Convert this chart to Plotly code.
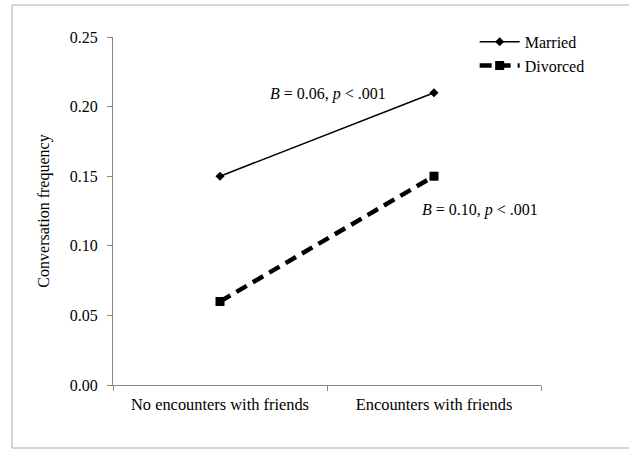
import plotly.graph_objects as go

categories = ["No encounters with friends", "Encounters with friends"]
married = [0.15, 0.21]
divorced = [0.06, 0.15]
y_ticks = [0.00, 0.05, 0.10, 0.15, 0.20, 0.25]
y_tick_labels = ["0.00", "0.05", "0.10", "0.15", "0.20", "0.25"]
annot_married = "<i>B</i> = 0.06, <i>p</i> < .001"
annot_divorced = "<i>B</i> = 0.10, <i>p</i> < .001"

FONT = "Liberation Serif"

fig = go.Figure()
fig.add_trace(go.Scatter(
    x=categories, y=married, name="Married", mode="lines+markers",
    line=dict(color="black", width=1.5),
    marker=dict(symbol="diamond", size=7, color="black"),
))
fig.add_trace(go.Scatter(
    x=categories, y=divorced, name="Divorced", mode="lines+markers",
    line=dict(color="black", width=4.5, dash="12px,7px"),
    marker=dict(symbol="square", size=9, color="black"),
))

fig.add_annotation(x=0.505, y=0.209, xref="x", yref="y", text=annot_married,
                   showarrow=False, font=dict(family=FONT, size=16, color="black"))
fig.add_annotation(x=1.215, y=0.1257, xref="x", yref="y", text=annot_divorced,
                   showarrow=False, font=dict(family=FONT, size=16, color="black"))

# outer chart frame (top, left, bottom edges)
fx0, fx1 = -101/428, (629-113)/428
fy0, fy1 = -(448-385)/348, (385-5)/348
for (a, b, c, d) in [(fx0, fy1, fx1, fy1), (fx0, fy0, fx0, fy1), (fx0, fy0, fx1, fy0)]:
    fig.add_shape(type="line", xref="paper", yref="paper", x0=a, y0=b, x1=c, y1=d,
                  line=dict(color="#c8c8c8", width=1.5))

fig.update_layout(
    width=629, height=450,
    margin=dict(l=113, r=88, t=37, b=65, autoexpand=False),
    paper_bgcolor="white", plot_bgcolor="white",
    font=dict(family=FONT, size=16, color="black"),
    showlegend=True,
    legend=dict(x=0.845, y=1.035, xanchor="left", yanchor="top",
                bgcolor="rgba(0,0,0,0)", font=dict(family=FONT, size=16),
                itemwidth=40, tracegroupgap=2),
    xaxis=dict(type="category", tickson="boundaries", ticks="outside",
               ticklen=5, tickcolor="#888", showline=True, linecolor="#888",
               linewidth=1, showgrid=False, zeroline=False, automargin=False,
               ticklabelstandoff=4,
               range=[-0.5, 1.5], tickfont=dict(family=FONT, size=16.4)),
    yaxis=dict(range=[0, 0.25], tickvals=y_ticks, ticktext=y_tick_labels,
               ticks="outside", ticklen=5, tickcolor="#888", showline=True,
               linecolor="#888", linewidth=1, showgrid=False, zeroline=False,
               automargin=False, ticklabelstandoff=6,
               title=dict(text="Conversation frequency", standoff=16,
                          font=dict(family=FONT, size=16)),
               tickfont=dict(family=FONT, size=16)),
)

fig.write_html("out.html", post_script="document.body.style.margin='0';",
               config={"displayModeBar": False})
